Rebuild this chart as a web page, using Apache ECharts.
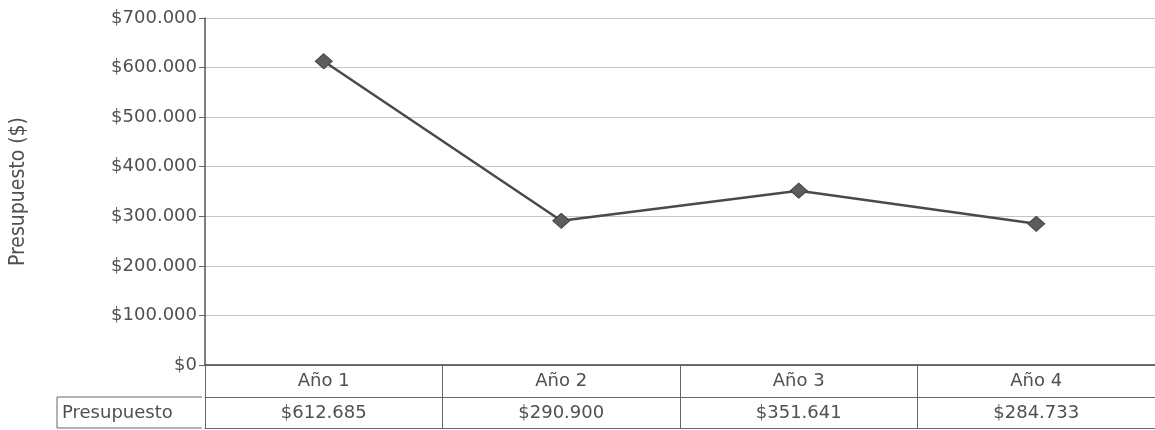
<!DOCTYPE html>
<html>
<head>
<meta charset="utf-8">
<title>Presupuesto</title>
<script src="https://cdn.jsdelivr.net/npm/echarts@6/dist/echarts.min.js"></script>
<style>
  html, body { margin: 0; padding: 0; background: #fff; }
  #chart { width: 1155px; height: 430px; }
</style>
</head>
<body>
<div id="chart"></div>
<script>
// datos
const categorias = ['Año 1', 'Año 2', 'Año 3', 'Año 4'];
const presupuesto = [612685, 290900, 351641, 284733];
const nombreSerie = 'Presupuesto';
const ejeMin = 0;
const ejeMax = 700000;
const ejeIntervalo = 100000;

const fuente = 'DejaVu Sans';
const colorTexto = '#505050';

// $612.685
function moneda(v) {
  return '$' + String(v).replace(/\B(?=(\d{3})+(?!\d))/g, '.');
}

const chart = echarts.init(document.getElementById('chart'));

const options = {
  animation: false,
  grid: {
    left: 202,
    right: 0,
    top: 18,
    bottom: 65
  },
  xAxis: [
    {
      type: 'category',
      data: categorias,
      boundaryGap: true,
      axisLine: { lineStyle: { color: '#444', width: 1.5 } },
      axisTick: { show: true, length: 63, lineStyle: { color: '#666' } },
      axisLabel: { margin: 7, fontSize: 18, fontFamily: fuente, color: colorTexto }
    },
    {
      // fila de valores de la tabla
      type: 'category',
      data: categorias,
      position: 'bottom',
      offset: 32,
      axisLine: { lineStyle: { color: '#666' } },
      axisTick: { show: false },
      axisLabel: {
        margin: 7,
        fontSize: 18,
        fontFamily: fuente,
        color: colorTexto,
        formatter: (v, i) => moneda(presupuesto[i])
      }
    },
    {
      // borde inferior
      type: 'category',
      data: categorias,
      position: 'bottom',
      offset: 63,
      axisLine: { lineStyle: { color: '#666' } },
      axisTick: { show: false },
      axisLabel: { show: false }
    }
  ],
  yAxis: {
    type: 'value',
    min: ejeMin,
    max: ejeMax,
    interval: ejeIntervalo,
    name: 'Presupuesto ($)',
    nameLocation: 'middle',
    nameGap: 176,
    nameRotate: 90,
    nameTextStyle: {
      fontFamily: '"DejaVu Sans Condensed", "Liberation Sans Narrow", "Liberation Sans"',
      fontSize: 21,
      color: colorTexto
    },
    axisLine: { show: true, lineStyle: { color: '#555', width: 1.5 } },
    axisTick: { show: true, length: 6, lineStyle: { color: '#666' } },
    axisLabel: {
      margin: 8,
      fontSize: 18,
      fontFamily: fuente,
      color: colorTexto,
      formatter: v => moneda(v)
    },
    splitLine: { lineStyle: { color: '#c4c4c4', width: 1 } }
  },
  series: [
    {
      name: nombreSerie,
      type: 'line',
      data: presupuesto,
      symbol: 'diamond',
      symbolSize: [17, 15],
      lineStyle: { color: '#4a4a4a', width: 2.5 },
      itemStyle: { color: '#5c5c5c', borderColor: '#444', borderWidth: 1 }
    }
  ],
  graphic: [
    {
      // celda de la leyenda de la tabla
      type: 'polyline',
      shape: { points: [[202, 397], [57, 397], [57, 428], [202, 428]] },
      style: { stroke: '#666', lineWidth: 1, fill: null }
    },
    {
      type: 'text',
      left: 62,
      top: 404,
      style: { text: nombreSerie, font: '18px "DejaVu Sans"', fill: colorTexto }
    }
  ]
};

chart.setOption(options);
</script>
</body>
</html>
